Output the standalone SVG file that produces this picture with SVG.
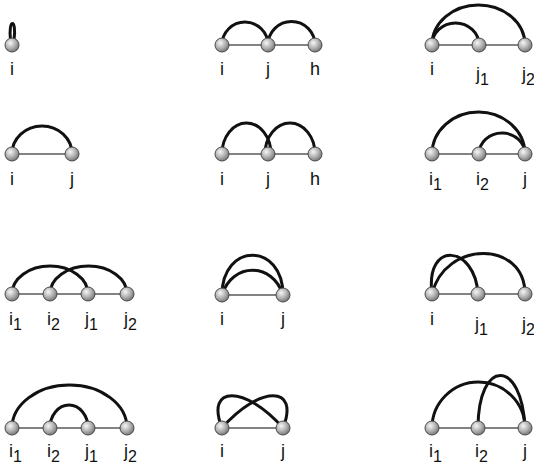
<svg xmlns="http://www.w3.org/2000/svg" width="534" height="465" viewBox="0 0 534 465">
<defs>
<radialGradient id="ball" cx="0.38" cy="0.35" r="0.7">
<stop offset="0" stop-color="#f6f6f6"/>
<stop offset="0.55" stop-color="#b0b0b0"/>
<stop offset="1" stop-color="#707070"/>
</radialGradient>
</defs>
<style>
.base{stroke:#5a5a5a;stroke-width:1.5;fill:none}
.arc{stroke:#111;stroke-width:3;fill:none}
.n{fill:url(#ball);stroke:#4a4a4a;stroke-width:1}
.t{font-family:"Liberation Sans",Arial,sans-serif;font-size:18px;fill:#111}
.m{text-anchor:middle}
.s{font-size:16px}
</style>
<rect width="534" height="465" fill="#fff"/>
<g id="connectors">
<line class="base" x1="222" y1="45" x2="315" y2="45"/>
<line class="base" x1="432" y1="45" x2="525" y2="45"/>
<line class="base" x1="12" y1="154" x2="72" y2="154"/>
<line class="base" x1="222" y1="154" x2="315" y2="154"/>
<line class="base" x1="432" y1="154" x2="525" y2="154"/>
<line class="base" x1="12" y1="294" x2="127" y2="294"/>
<line class="base" x1="222" y1="295" x2="283" y2="295"/>
<line class="base" x1="432" y1="294" x2="525" y2="294"/>
<line class="base" x1="12" y1="428" x2="127" y2="428"/>
<line class="base" x1="222" y1="428" x2="283" y2="428"/>
<line class="base" x1="432" y1="428" x2="525" y2="428"/>
<path class="arc" d="M10.5,40 C8,18 17,18 14,40"/>
<path class="arc" d="M222,45 A23,23 0 0 1 268,45"/>
<path class="arc" d="M268,45 A23.5,23.5 0 0 1 315,45"/>
<path class="arc" d="M432,45 A23.5,22 0 0 1 479,45"/>
<path class="arc" d="M432,45 A46.5,40 0 0 1 525,45"/>
<path class="arc" d="M12,154 A30,28 0 0 1 72,154"/>
<path class="arc" d="M222,154 A24.5,31 0 0 1 271,154"/>
<path class="arc" d="M265,154 A25,31 0 0 1 315,154"/>
<path class="arc" d="M432,154 A46.5,42 0 0 1 525,154"/>
<path class="arc" d="M479,154 A23,21 0 0 1 525,154"/>
<path class="arc" d="M12,294 A38,28 0 0 1 88,294"/>
<path class="arc" d="M50,294 A38.5,28 0 0 1 127,294"/>
<path class="arc" d="M222,295 C222,242 283,242 283,295"/>
<path class="arc" d="M222,295 C232,262 273,262 283,295"/>
<path class="arc" d="M432,294 C425,240 475,245 478,294"/>
<path class="arc" d="M432,294 C445,240 525,240 525,294"/>
<path class="arc" d="M12,428 A57.5,43 0 0 1 127,428"/>
<path class="arc" d="M50,428 A19,23 0 0 1 88,428"/>
<path class="arc" d="M222,428 C205,385 245,385 283,428"/>
<path class="arc" d="M283,428 C300,385 260,385 222,428"/>
<path class="arc" d="M432,428 A46.5,46 0 0 1 525,428"/>
<path class="arc" d="M478,428 C478,358 522,358 525,428"/>
</g>
<g id="p1-i"><circle class="n" cx="12" cy="45" r="7"/><text class="t m" x="12" y="75">i</text></g>
<g id="p2-i"><circle class="n" cx="222" cy="45" r="7"/><text class="t m" x="222" y="75">i</text></g>
<g id="p2-j"><circle class="n" cx="268" cy="45" r="7"/><text class="t m" x="268" y="75">j</text></g>
<g id="p2-h"><circle class="n" cx="315" cy="45" r="7"/><text class="t m" x="315" y="75">h</text></g>
<g id="p3-i"><circle class="n" cx="432" cy="45" r="7"/><text class="t m" x="432" y="75">i</text></g>
<g id="p3-j1"><circle class="n" cx="479" cy="45" r="7"/><text class="t" x="476" y="80">j<tspan class="s" dy="5">1</tspan></text></g>
<g id="p3-j2"><circle class="n" cx="525" cy="45" r="7"/><text class="t" x="522" y="80">j<tspan class="s" dy="5">2</tspan></text></g>
<g id="p4-i"><circle class="n" cx="12" cy="154" r="7"/><text class="t m" x="12" y="185">i</text></g>
<g id="p4-j"><circle class="n" cx="72" cy="154" r="7"/><text class="t m" x="72" y="185">j</text></g>
<g id="p5-i"><circle class="n" cx="222" cy="154" r="7"/><text class="t m" x="222" y="185">i</text></g>
<g id="p5-j"><circle class="n" cx="268" cy="154" r="7"/><text class="t m" x="268" y="185">j</text></g>
<g id="p5-h"><circle class="n" cx="315" cy="154" r="7"/><text class="t m" x="315" y="185">h</text></g>
<g id="p6-i1"><circle class="n" cx="432" cy="154" r="7"/><text class="t" x="429" y="185">i<tspan class="s" dy="5">1</tspan></text></g>
<g id="p6-i2"><circle class="n" cx="479" cy="154" r="7"/><text class="t" x="476" y="185">i<tspan class="s" dy="5">2</tspan></text></g>
<g id="p6-j"><circle class="n" cx="525" cy="154" r="7"/><text class="t m" x="525" y="185">j</text></g>
<g id="p7-i1"><circle class="n" cx="12" cy="294" r="7"/><text class="t" x="9" y="325">i<tspan class="s" dy="5">1</tspan></text></g>
<g id="p7-i2"><circle class="n" cx="50" cy="294" r="7"/><text class="t" x="47" y="325">i<tspan class="s" dy="5">2</tspan></text></g>
<g id="p7-j1"><circle class="n" cx="88" cy="294" r="7"/><text class="t" x="85" y="325">j<tspan class="s" dy="5">1</tspan></text></g>
<g id="p7-j2"><circle class="n" cx="127" cy="294" r="7"/><text class="t" x="124" y="325">j<tspan class="s" dy="5">2</tspan></text></g>
<g id="p8-i"><circle class="n" cx="222" cy="295" r="7"/><text class="t m" x="222" y="325">i</text></g>
<g id="p8-j"><circle class="n" cx="283" cy="295" r="7"/><text class="t m" x="283" y="325">j</text></g>
<g id="p9-i"><circle class="n" cx="432" cy="294" r="7"/><text class="t m" x="432" y="325">i</text></g>
<g id="p9-j1"><circle class="n" cx="478" cy="294" r="7"/><text class="t" x="475" y="330">j<tspan class="s" dy="5">1</tspan></text></g>
<g id="p9-j2"><circle class="n" cx="525" cy="294" r="7"/><text class="t" x="522" y="330">j<tspan class="s" dy="5">2</tspan></text></g>
<g id="p10-i1"><circle class="n" cx="12" cy="428" r="7"/><text class="t" x="9" y="457">i<tspan class="s" dy="5">1</tspan></text></g>
<g id="p10-i2"><circle class="n" cx="50" cy="428" r="7"/><text class="t" x="47" y="457">i<tspan class="s" dy="5">2</tspan></text></g>
<g id="p10-j1"><circle class="n" cx="88" cy="428" r="7"/><text class="t" x="85" y="457">j<tspan class="s" dy="5">1</tspan></text></g>
<g id="p10-j2"><circle class="n" cx="127" cy="428" r="7"/><text class="t" x="124" y="457">j<tspan class="s" dy="5">2</tspan></text></g>
<g id="p11-i"><circle class="n" cx="222" cy="428" r="7"/><text class="t m" x="222" y="457">i</text></g>
<g id="p11-j"><circle class="n" cx="283" cy="428" r="7"/><text class="t m" x="283" y="457">j</text></g>
<g id="p12-i1"><circle class="n" cx="432" cy="428" r="7"/><text class="t" x="429" y="457">i<tspan class="s" dy="5">1</tspan></text></g>
<g id="p12-i2"><circle class="n" cx="478" cy="428" r="7"/><text class="t" x="475" y="457">i<tspan class="s" dy="5">2</tspan></text></g>
<g id="p12-j"><circle class="n" cx="525" cy="428" r="7"/><text class="t m" x="525" y="457">j</text></g>
</svg>
